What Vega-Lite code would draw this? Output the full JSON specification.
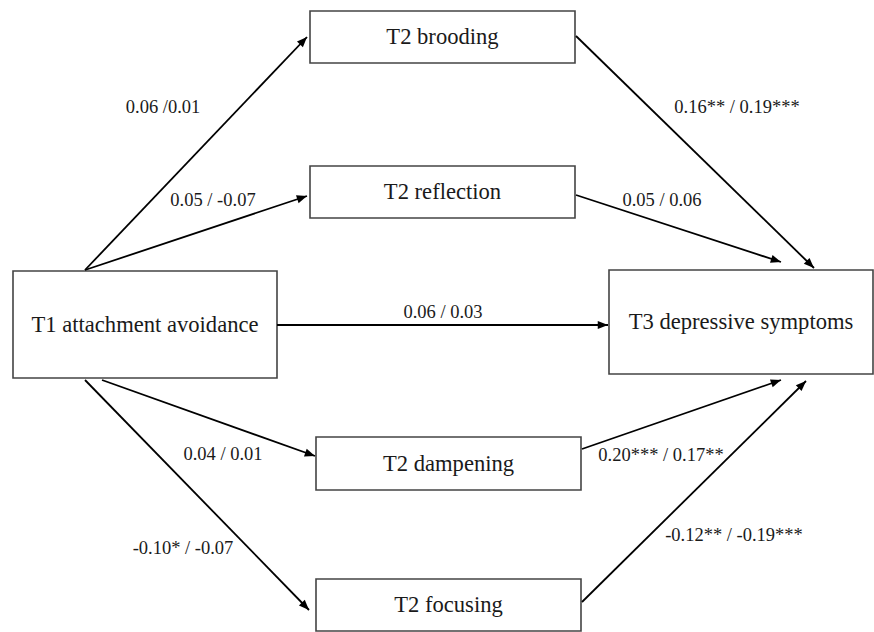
{
  "$schema": "https://vega.github.io/schema/vega-lite/v6.json",
  "width": 874,
  "height": 632,
  "autosize": {"type": "fit", "contains": "padding"},
  "padding": 0,
  "background": "white",
  "config": {"view": {"stroke": null}},
  "datasets": {
    "boxes": [
      {"name": "T2 brooding", "x1": 310, "x2": 575, "y1": 11, "y2": 63},
      {"name": "T2 reflection", "x1": 310, "x2": 575, "y1": 166, "y2": 218},
      {"name": "T1 attachment avoidance", "x1": 13, "x2": 277, "y1": 271, "y2": 378},
      {"name": "T3 depressive symptoms", "x1": 609, "x2": 873, "y1": 270, "y2": 374},
      {"name": "T2 dampening", "x1": 316, "x2": 581, "y1": 437, "y2": 490},
      {"name": "T2 focusing", "x1": 316, "x2": 581, "y1": 579, "y2": 631}
    ],
    "edges": [
      {"from": "T1", "to": "brooding", "x1": 85, "y1": 270, "x2": 307, "y2": 37},
      {"from": "T1", "to": "reflection", "x1": 85, "y1": 270, "x2": 307, "y2": 196},
      {"from": "brooding", "to": "T3", "x1": 576, "y1": 36, "x2": 814, "y2": 268},
      {"from": "reflection", "to": "T3", "x1": 576, "y1": 195, "x2": 781, "y2": 262},
      {"from": "T1", "to": "T3", "x1": 277, "y1": 325, "x2": 608, "y2": 325},
      {"from": "T1", "to": "dampening", "x1": 102, "y1": 380, "x2": 315, "y2": 456},
      {"from": "T1", "to": "focusing", "x1": 85, "y1": 380, "x2": 309, "y2": 610},
      {"from": "dampening", "to": "T3", "x1": 582, "y1": 449, "x2": 781, "y2": 380},
      {"from": "focusing", "to": "T3", "x1": 582, "y1": 602, "x2": 806, "y2": 381}
    ],
    "coefs": [
      {"label": "0.06 /0.01", "x": 163, "y": 107},
      {"label": "0.05 / -0.07", "x": 213, "y": 200},
      {"label": "0.16** / 0.19***", "x": 737, "y": 107},
      {"label": "0.05 / 0.06", "x": 662, "y": 200},
      {"label": "0.06 / 0.03", "x": 443, "y": 312},
      {"label": "0.04 / 0.01", "x": 223, "y": 454},
      {"label": "-0.10* / -0.07", "x": 183, "y": 548},
      {"label": "0.20*** / 0.17**", "x": 661, "y": 455},
      {"label": "-0.12** / -0.19***", "x": 734, "y": 535}
    ]
  },
  "layer": [
    {
      "data": {"name": "boxes"},
      "mark": {"type": "rect", "fill": "white", "stroke": "#444444", "strokeWidth": 1.6},
      "encoding": {
        "x": {"field": "x1", "type": "quantitative", "scale": {"domain": [0, 874], "nice": false, "zero": false}, "axis": null},
        "x2": {"field": "x2"},
        "y": {"field": "y1", "type": "quantitative", "scale": {"domain": [0, 632], "nice": false, "zero": false, "reverse": true}, "axis": null},
        "y2": {"field": "y2"}
      }
    },
    {
      "data": {"name": "boxes"},
      "transform": [
        {"calculate": "(datum.x1 + datum.x2) / 2", "as": "cx"},
        {"calculate": "(datum.y1 + datum.y2) / 2", "as": "cy"}
      ],
      "mark": {"type": "text", "font": "Liberation Serif, Times New Roman, DejaVu Serif, serif", "fontSize": 22.6, "color": "#1a1a1a", "align": "center", "baseline": "middle"},
      "encoding": {
        "x": {"field": "cx", "type": "quantitative"},
        "y": {"field": "cy", "type": "quantitative"},
        "text": {"field": "name"}
      }
    },
    {
      "data": {"name": "edges"},
      "mark": {"type": "rule", "color": "black", "strokeWidth": 1.8},
      "encoding": {
        "x": {"field": "x1", "type": "quantitative"},
        "y": {"field": "y1", "type": "quantitative"},
        "x2": {"field": "x2"},
        "y2": {"field": "y2"}
      }
    },
    {
      "data": {"name": "edges"},
      "transform": [
        {"calculate": "atan2(datum.x2 - datum.x1, -(datum.y2 - datum.y1)) * 180 / PI", "as": "ang"}
      ],
      "mark": {"type": "point", "shape": "M0,0L-0.4,1L0.4,1Z", "filled": true, "color": "black", "opacity": 1, "size": 420, "strokeWidth": 0},
      "encoding": {
        "x": {"field": "x2", "type": "quantitative"},
        "y": {"field": "y2", "type": "quantitative"},
        "angle": {"field": "ang", "type": "quantitative", "scale": null}
      }
    },
    {
      "data": {"name": "coefs"},
      "mark": {"type": "text", "font": "Liberation Serif, Times New Roman, DejaVu Serif, serif", "fontSize": 18.5, "color": "#1a1a1a", "align": "center", "baseline": "middle"},
      "encoding": {
        "x": {"field": "x", "type": "quantitative"},
        "y": {"field": "y", "type": "quantitative"},
        "text": {"field": "label"}
      }
    }
  ]
}
